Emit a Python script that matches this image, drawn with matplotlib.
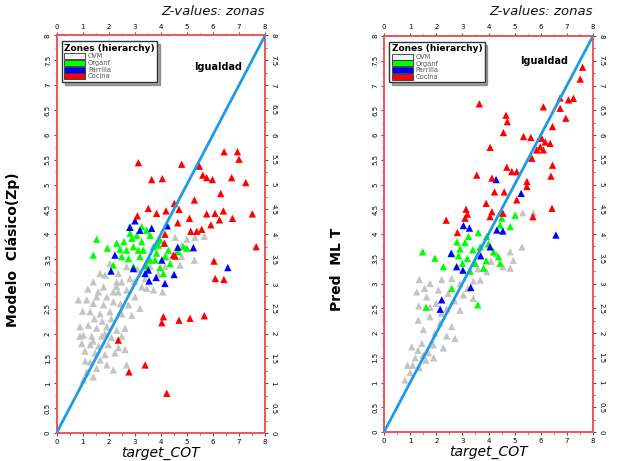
import matplotlib
matplotlib.use("Agg")
import matplotlib.pyplot as plt
from matplotlib.patches import Patch
from matplotlib.ticker import MultipleLocator, FuncFormatter

# ---------------- data ----------------
zones = ["OVM", "Orgánf", "Parrilla", "Cocina"]
zone_colors = ["#c4c4c4", "#00ff00", "#0000ff", "#ff0000"]
legend_colors = ["#f4f4f4", "#00ff00", "#0000ff", "#ff0000"]

identity = [0, 8]

left_gray = [(4.55,3.94),(5.00,3.90),(5.31,3.94),(5.67,3.96),(5.29,3.48),(4.80,3.55),(4.74,3.38),
             (4.07,2.84),(3.46,2.91),(1.86,3.18),(1.67,3.21),(2.37,3.21),(1.41,3.04),(2.50,3.04),
             (2.82,3.11),(1.80,2.94),(1.60,2.84),(2.18,2.84),(2.69,2.88),(0.84,2.68),(1.16,2.68),
             (1.54,2.74),(1.93,2.74),(2.37,2.84),(3.01,2.74),(1.41,2.61),(1.80,2.58),(2.18,2.64),
             (2.76,2.58),(3.20,2.51),(1.29,2.44),(1.67,2.40),(2.05,2.44),(2.50,2.40),(2.89,2.37),
             (0.90,2.14),(1.22,2.17),(1.54,2.11),(1.93,2.14),(2.31,2.07),(2.63,2.11),(1.03,1.97),
             (1.35,1.95),(1.73,1.95),(2.11,1.92),(2.50,1.95),(0.97,1.80),(1.29,1.78),(1.61,1.75),
             (1.99,1.78),(2.37,1.72),(2.63,1.68),(1.09,1.65),(1.48,1.61),(1.86,1.58),(2.24,1.61),
             (1.29,1.43),(1.67,1.47),(1.93,1.37),(2.18,1.27),(1.54,1.30),(2.69,1.37),(1.16,1.23),
             (1.41,1.13),(1.03,1.07),(3.27,2.94),(3.72,2.88),(2.31,3.04),(2.69,3.35),(2.05,3.41),
             (4.23,3.55),(4.61,3.68),(4.80,3.78),(4.16,3.35),(3.60,3.35),(3.90,3.20),(3.00,3.05),
             (2.30,2.95),(1.20,2.90),(1.00,2.45),(0.90,1.95),(1.45,2.30),(1.75,2.25),(2.10,2.30),
             (1.10,1.45),(1.40,1.85),(1.85,2.00),(2.45,2.60),(3.40,3.10),(3.10,3.30)]
left_green = [(1.54,3.90),(1.41,3.58),(2.80,4.14),(3.27,4.15),(3.08,3.98),(2.59,3.85),(2.89,3.92),
              (3.59,3.98),(3.97,3.88),(1.95,3.72),(2.44,3.70),(2.95,3.75),(3.33,3.68),(3.72,3.75),
              (4.29,3.68),(4.87,3.75),(2.76,3.51),(3.20,3.55),(3.59,3.48),(2.95,3.35),(3.97,3.33),
              (3.46,3.36),(2.18,3.38),(4.36,3.41),(4.10,3.21),(2.50,3.55),(3.84,3.62),(3.27,3.85),
              (2.31,3.82),(2.69,3.68),(3.14,3.68),(3.78,3.48),(4.16,3.55),(4.67,3.65),(5.00,3.72),
              (2.82,4.02),(3.46,4.08),(3.91,3.78)]
left_blue = [(3.01,4.27),(2.82,4.14),(3.65,4.12),(3.20,4.08),(4.25,4.17),(4.65,3.74),(5.25,3.73),
             (2.24,3.58),(4.04,3.48),(2.09,3.26),(3.52,3.28),(2.95,3.31),(6.57,3.33),(4.51,3.19),
             (4.16,3.01),(3.55,3.06),(3.82,3.13),(3.40,3.21)]
left_red = [(3.14,5.44),(4.80,5.41),(5.48,5.37),(6.43,5.66),(6.94,5.66),(7.00,5.51),(3.65,5.10),
            (4.06,5.12),(5.61,5.19),(5.76,5.14),(5.98,5.10),(6.72,5.14),(7.26,5.04),(6.30,4.82),
            (5.29,4.69),(4.52,4.62),(3.52,4.52),(3.84,4.42),(4.20,4.47),(4.70,4.50),(5.76,4.41),
            (6.08,4.42),(6.40,4.47),(6.75,4.32),(7.51,4.41),(5.10,4.32),(6.25,4.29),(4.65,4.23),
            (5.92,4.19),(5.57,4.10),(5.38,4.06),(5.15,4.06),(3.10,4.37),(4.16,4.00),(4.55,3.56),
            (7.66,3.75),(6.04,3.46),(6.09,3.11),(6.42,3.09),(4.10,2.34),(4.04,2.22),(4.70,2.27),
            (5.12,2.31),(5.67,2.36),(3.40,1.37),(2.78,1.23),(4.23,0.80),(2.37,1.87),(4.14,3.82),
            (4.48,3.58)]

right_gray = [(5.31,4.43),(5.72,4.43),(5.28,3.74),(4.83,3.64),(4.95,3.47),(4.55,3.34),(4.83,3.31),
              (3.93,3.24),(3.68,3.07),(3.42,3.05),(1.35,3.08),(1.76,3.00),(2.21,3.08),(2.59,3.10),
              (2.91,3.00),(1.25,2.83),(1.63,2.73),(2.08,2.87),(2.46,2.80),(3.04,2.77),(3.42,2.70),
              (1.33,2.55),(1.76,2.52),(2.40,2.49),(2.91,2.46),(1.31,2.26),(1.76,2.33),(2.14,2.20),
              (2.59,2.13),(1.51,2.07),(1.95,2.00),(2.40,1.94),(2.72,1.89),(1.06,1.72),(1.45,1.79),
              (1.89,1.76),(2.27,1.70),(0.80,1.05),(1.00,1.20),(1.10,1.35),(1.20,1.50),(1.35,1.30),
              (1.50,1.55),(1.60,1.45),(0.90,1.35),(1.30,1.65),(1.70,1.60),(1.90,1.50),(2.00,2.60),
              (2.70,2.65),(3.20,2.90),(2.20,2.40),(1.55,2.90),(3.60,3.30),(4.10,3.45),(4.30,3.60)]
right_green = [(1.48,3.64),(5.02,4.38),(4.51,4.32),(4.83,4.15),(4.44,4.18),(3.23,3.95),(3.61,4.03),
               (2.79,3.84),(3.10,3.83),(3.93,3.95),(3.40,3.68),(3.68,3.74),(2.91,3.70),(1.95,3.51),
               (2.27,3.34),(2.85,3.56),(3.19,3.51),(3.49,3.41),(3.91,3.46),(4.38,3.54),(4.19,3.64),
               (4.44,3.41),(3.81,3.31),(3.00,3.41),(2.59,2.90),(3.59,2.57),(1.61,2.52),(3.30,3.25),
               (2.60,3.60),(4.00,3.80)]
right_blue = [(4.29,5.10),(5.25,4.82),(6.58,3.98),(3.04,4.17),(3.27,4.12),(4.32,4.08),(4.55,4.06),
              (4.06,3.74),(2.57,3.61),(3.70,3.56),(3.02,3.27),(2.78,3.34),(2.21,2.67),(2.15,2.48),
              (3.32,2.92)]
right_red = [(7.60,7.37),(7.51,7.13),(3.65,6.63),(6.74,6.75),(7.06,6.71),(7.25,6.74),(6.10,6.57),
             (6.74,6.54),(6.96,6.34),(4.67,6.40),(4.72,6.27),(6.45,6.17),(4.57,6.05),(5.34,5.97),
             (5.62,5.95),(6.04,5.93),(6.17,5.86),(6.36,5.83),(5.98,5.76),(5.85,5.70),(6.10,5.70),
             (4.06,5.75),(5.66,5.53),(6.45,5.39),(4.70,5.35),(4.89,5.26),(5.08,5.26),(3.55,5.19),
             (6.39,5.17),(4.13,5.13),(5.47,5.06),(5.47,4.96),(4.23,4.85),(4.60,4.85),(5.08,4.69),
             (3.91,4.62),(3.14,4.50),(3.19,4.40),(4.13,4.45),(4.55,4.42),(4.06,4.35),(2.38,4.28),
             (3.10,4.32),(6.43,4.52),(5.70,4.35),(2.81,4.03)]

panels = [
    dict(ylabel="Modelo  Clásico(Zp)", series=[left_gray, left_green, left_blue, left_red],
         rect=[0.0916, 0.0607, 0.338, 0.8623], ylab_xy=(-0.175, 0.46), igual=(6.2, 7.36)),
    dict(ylabel="Pred  ML T", series=[right_gray, right_green, right_blue, right_red],
         rect=[0.6224, 0.0629, 0.3387, 0.859], ylab_xy=(-0.19, 0.41), igual=(6.13, 7.5)),
]

fig = plt.figure(figsize=(6.17, 4.61), dpi=100)
fmt = FuncFormatter(lambda v, p: "%g" % v)

for pnl in panels:
    ax = fig.add_axes(pnl["rect"])
    for pts, col in zip(pnl["series"], zone_colors):
        xs = [p[0] for p in pts]
        ys = [p[1] for p in pts]
        ax.scatter(xs, ys, marker="^", s=28, c=col, edgecolors="none", zorder=3)
    ax.plot(identity, identity, color="#1c9be8", lw=2.0, zorder=4, solid_capstyle="butt")
    ax.set_xlim(0, 8)
    ax.set_ylim(0, 8)
    ax.xaxis.set_major_locator(MultipleLocator(1))
    ax.xaxis.set_minor_locator(MultipleLocator(0.5))
    ax.yaxis.set_major_locator(MultipleLocator(0.5))
    ax.yaxis.set_minor_locator(MultipleLocator(0.25))
    ax.xaxis.set_major_formatter(fmt)
    ax.yaxis.set_major_formatter(fmt)
    ax.tick_params(which="both", top=True, right=True, labeltop=True, labelright=True,
                   direction="out", color="#555555", labelsize=5, pad=1.5)
    ax.tick_params(which="major", length=2.5, width=0.8)
    ax.tick_params(which="minor", length=1.5, width=0.6)
    for t in ax.yaxis.get_major_ticks():
        t.label1.set_rotation(90)
        t.label1.set_va("center")
        t.label2.set_rotation(-90)
        t.label2.set_va("center")
    for sp in ax.spines.values():
        sp.set_color("#ee5555")
        sp.set_linewidth(1.4)
    ax.set_xlabel("target_COT", fontsize=10, style="italic", labelpad=1)
    ax.set_ylabel(pnl["ylabel"], fontsize=10, fontweight="bold")
    ax.yaxis.set_label_coords(*pnl["ylab_xy"])
    ax.text(1.0, 1.045, "Z-values: zonas", transform=ax.transAxes, ha="right", va="bottom",
            fontsize=9.5, style="italic", color="#111111")
    ax.text(pnl["igual"][0], pnl["igual"][1], "Igualdad", ha="center", va="center",
            fontsize=7, fontweight="bold", zorder=5)
    handles = [Patch(facecolor=fc, edgecolor="#333333", linewidth=0.6, label=z)
               for fc, z in zip(legend_colors, zones)]
    leg = ax.legend(handles=handles, loc="upper left", bbox_to_anchor=(0.025, 0.985),
                    title="Zones (hierarchy)", fontsize=4.8, title_fontsize=6.5,
                    frameon=True, fancybox=False, shadow=True, handlelength=3.2,
                    handleheight=1.0, labelspacing=0.05, borderpad=0.35,
                    handletextpad=0.4, borderaxespad=0.0)
    leg.get_title().set_fontweight("bold")
    leg._legend_box.align = "left"
    leg.get_frame().set_edgecolor("#333333")
    leg.get_frame().set_linewidth(1.0)
    leg.set_zorder(6)
    for txt in leg.get_texts():
        txt.set_color("#555555")

fig.savefig("out.png", dpi=100)
